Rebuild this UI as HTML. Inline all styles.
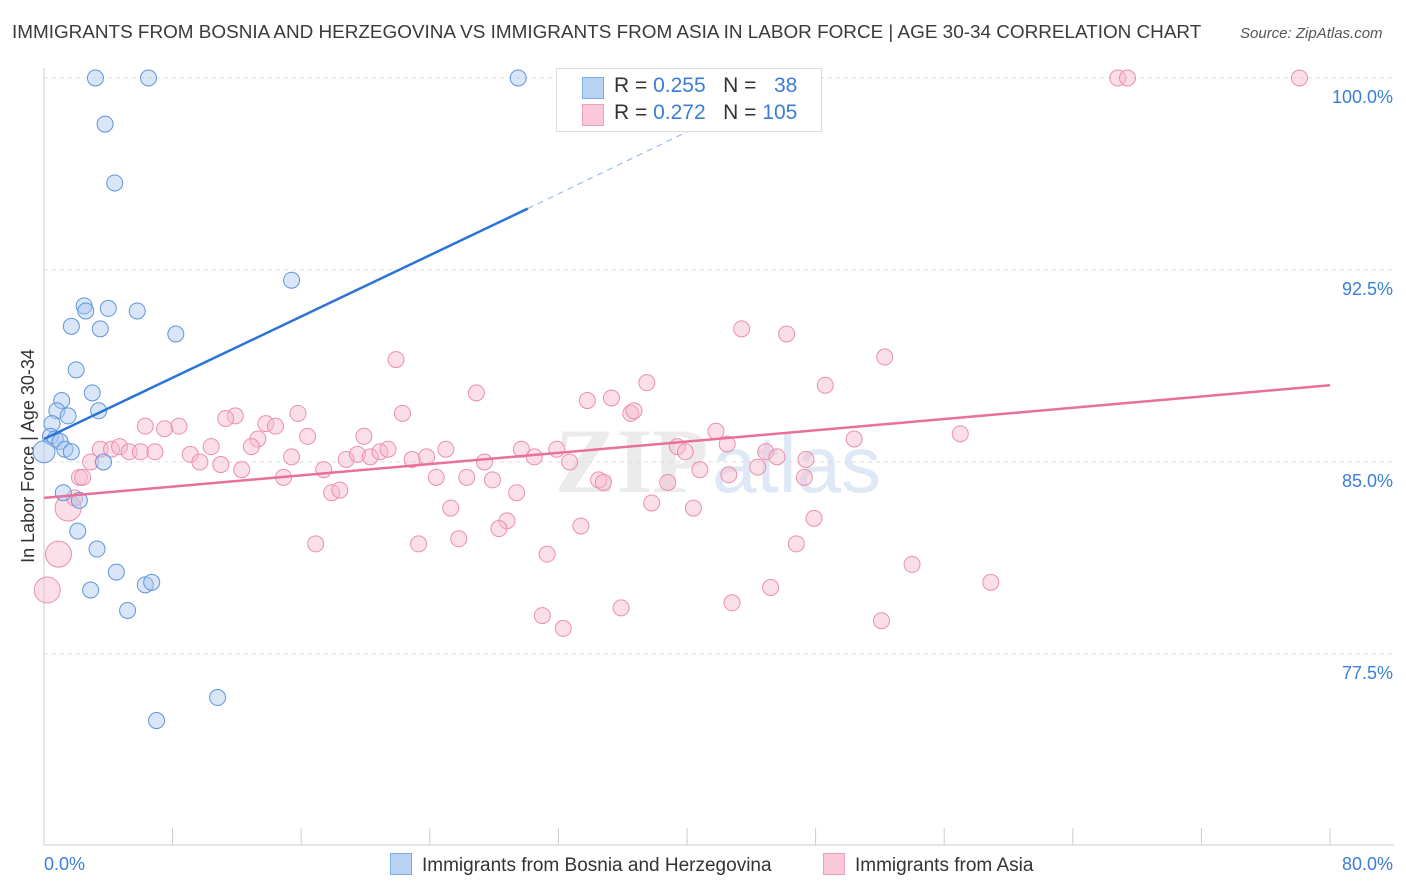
<!DOCTYPE html>
<html><head><meta charset="utf-8"><style>
body{margin:0;background:#fff;font-family:"Liberation Sans",sans-serif;}
#wrap{position:relative;width:1406px;height:892px;overflow:hidden;}
.t{position:absolute;white-space:nowrap;}
</style></head><body>
<div id="wrap">
<div class="t" style="left:12px;top:22px;font-size:18.9px;color:#3a3a3a;">IMMIGRANTS FROM BOSNIA AND HERZEGOVINA VS IMMIGRANTS FROM ASIA IN LABOR FORCE | AGE 30-34 CORRELATION CHART</div>
<div class="t" style="left:1240px;top:25px;font-size:15px;color:#555;font-style:italic;">Source: ZipAtlas.com</div>
<svg id="svg" width="1406" height="892" style="position:absolute;left:0;top:0"></svg>
</div>
<script>
const xTicks=[0,8,16,24,32,40,48,56,64,72,80];
const yTicks=[100,92.5,85,77.5];
const yTickLabels=["100.0%","92.5%","85.0%","77.5%"];
const blueX=[3.2,6.5,29.5,3.8,4.4,15.4,2.5,2.6,4.0,5.8,1.7,3.5,8.2,2.0,3.0,1.1,0.8,1.5,3.4,0.5,0.4,0.7,1.0,1.3,1.7,3.7,0.0,1.2,2.2,2.1,3.3,4.5,2.9,6.3,6.7,5.2,10.8,7.0];
const blueY=[100,100,100,98.2,95.9,92.1,91.1,90.9,91.0,90.9,90.3,90.2,90.0,88.6,87.7,87.4,87.0,86.8,87.0,86.5,86.0,85.9,85.8,85.5,85.4,85.0,85.4,83.8,83.5,82.3,81.6,80.7,80.0,80.2,80.3,79.2,75.8,74.9];
const blueBig=[26];
const pinkX=[66.8,67.4,78.1,43.4,46.2,52.3,21.9,37.5,48.6,26.9,33.8,35.3,22.3,15.8,36.5,36.7,11.9,11.3,6.3,7.5,8.4,13.8,14.4,13.3,16.4,19.9,41.8,50.4,57.0,3.5,4.2,4.7,5.3,6.0,6.9,10.4,12.9,9.1,9.7,11.0,12.3,15.4,17.4,18.8,19.5,20.3,20.9,21.4,22.9,23.8,25.0,27.4,29.7,30.5,31.9,32.7,39.4,39.9,42.5,44.9,45.6,47.4,2.9,2.2,14.9,24.4,26.3,27.9,34.5,34.8,38.8,40.8,42.6,44.4,47.3,17.9,18.4,29.4,25.3,28.8,28.3,33.4,37.8,40.4,47.9,1.5,16.9,23.3,25.8,31.3,46.8,0.9,54.0,58.9,0.2,45.2,42.8,35.9,31.0,32.3,52.1,1.9,2.4];
const pinkY=[100,100,100,90.2,90.0,89.1,89.0,88.1,88.0,87.7,87.4,87.5,86.9,86.9,86.9,87.0,86.8,86.7,86.4,86.3,86.4,86.5,86.4,85.9,86.0,86.0,86.2,85.9,86.1,85.5,85.5,85.6,85.4,85.4,85.4,85.6,85.6,85.3,85.0,84.9,84.7,85.2,84.7,85.1,85.3,85.2,85.4,85.5,85.1,85.2,85.5,85.0,85.5,85.2,85.5,85.0,85.6,85.4,85.7,85.4,85.2,85.1,85.0,84.4,84.4,84.4,84.4,84.3,84.3,84.2,84.2,84.7,84.5,84.8,84.4,83.8,83.9,83.8,83.2,82.7,82.4,82.5,83.4,83.2,82.8,83.2,81.8,81.8,82.0,81.4,81.8,81.4,81.0,80.3,80.0,80.1,79.5,79.3,79.0,78.5,78.8,83.6,84.4];
const pinkBig=[85,91,94];
const blueLine=[[0,85.9],[30.1,94.9],[42,98.5]];
const pinkLine=[[0,83.6],[80,88.0]];

const X=v=>44+v*(1286/80);
const Y=v=>78+(100-v)*25.6;
const svg=document.getElementById('svg');
const NS='http://www.w3.org/2000/svg';
function mk(tag,attrs){const e=document.createElementNS(NS,tag);for(const k in attrs)e.setAttribute(k,attrs[k]);svg.appendChild(e);return e;}
let wm=mk('text',{x:555,y:492,'font-size':92,fill:'#ebebeb','font-family':'Liberation Serif','font-weight':'bold'});wm.textContent='ZIP';


let wm2=mk('text',{x:712,y:492,'font-size':80,fill:'#dfe8f6','font-family':'Liberation Sans'});wm2.textContent='atlas';


yTicks.forEach((v,i)=>{
 const g=mk('line',{x1:44,x2:1394,y1:Y(v),y2:Y(v),stroke:'#ddd','stroke-dasharray':'4,4'});
 
 
 const t=mk('text',{x:1393,y:Y(v)+25,'text-anchor':'end','font-size':18,fill:'#3b7dd8'});t.textContent=yTickLabels[i];
 
 
});
let ax=mk('line',{x1:44,x2:1394,y1:845,y2:845,stroke:'#ccc'});


let ay=mk('line',{x1:44,x2:44,y1:68,y2:845,stroke:'#ccc'});


xTicks.forEach(v=>{const l=mk('line',{x1:X(v),x2:X(v),y1:828,y2:845,stroke:'#ccc'});
 
 });
let xl0=mk('text',{x:44,y:870,'font-size':18,fill:'#3b7dd8'});xl0.textContent='0.0%';


let xl1=mk('text',{x:1393,y:870,'font-size':18,fill:'#3b7dd8','text-anchor':'end'});xl1.textContent='80.0%';


let yt=mk('text',{x:34,y:456,'font-size':18,fill:'#333','text-anchor':'middle',transform:'rotate(-90 34 456)'});yt.textContent='In Labor Force | Age 30-34';


pinkX.forEach((v,i)=>{const r=pinkBig.includes(i)?13:8;
 const c=mk('circle',{cx:X(v),cy:Y(pinkY[i]),r:r,fill:'rgba(247,184,204,0.45)',stroke:'#eb8fae','stroke-width':1});
 
 });
blueX.forEach((v,i)=>{const r=blueBig.includes(i)?11:8;
 const c=mk('circle',{cx:X(v),cy:Y(blueY[i]),r:r,fill:'rgba(169,200,240,0.45)',stroke:'#5f95dc','stroke-width':1});
 
 });
let bl=mk('line',{x1:X(blueLine[0][0]),y1:Y(blueLine[0][1]),x2:X(blueLine[1][0]),y2:Y(blueLine[1][1]),stroke:'#2a74d8','stroke-width':2.5});


let bd=mk('line',{x1:X(blueLine[1][0]),y1:Y(blueLine[1][1]),x2:X(blueLine[2][0]),y2:Y(blueLine[2][1]),stroke:'#9dbce8','stroke-width':1.2,'stroke-dasharray':'6,5'});


let pl=mk('line',{x1:X(pinkLine[0][0]),y1:Y(pinkLine[0][1]),x2:X(pinkLine[1][0]),y2:Y(pinkLine[1][1]),stroke:'#e8709a','stroke-width':2.5});


</script>
<div class="t" style="left:556px;top:68px;width:264px;height:62px;border:1px solid #ddd;background:#fff;font-size:21px;">
 <div style="position:absolute;left:25px;top:8px;width:20px;height:20px;background:#b9d3f5;border:1px solid #7eaae6;"></div>
 <div class="t" style="left:57px;top:5px;color:#333;">R = <span style="color:#3b7dd8">0.255</span>&nbsp;&nbsp;&nbsp;N = &nbsp;&nbsp;<span style="color:#3b7dd8">38</span></div>
 <div style="position:absolute;left:25px;top:35px;width:20px;height:20px;background:#fac8d7;border:1px solid #ef9db8;"></div>
 <div class="t" style="left:57px;top:32px;color:#333;">R = <span style="color:#3b7dd8">0.272</span>&nbsp;&nbsp;&nbsp;N = <span style="color:#3b7dd8">105</span></div>
</div>
<div class="t" style="left:390px;top:853px;font-size:19px;color:#333;"><span style="display:inline-block;width:20px;height:20px;background:#b9d3f5;border:1px solid #7eaae6;vertical-align:-4px;margin-right:10px;"></span>Immigrants from Bosnia and Herzegovina</div>
<div class="t" style="left:823px;top:853px;font-size:19px;color:#333;"><span style="display:inline-block;width:20px;height:20px;background:#fac8d7;border:1px solid #ef9db8;vertical-align:-4px;margin-right:10px;"></span>Immigrants from Asia</div>
</body></html>
